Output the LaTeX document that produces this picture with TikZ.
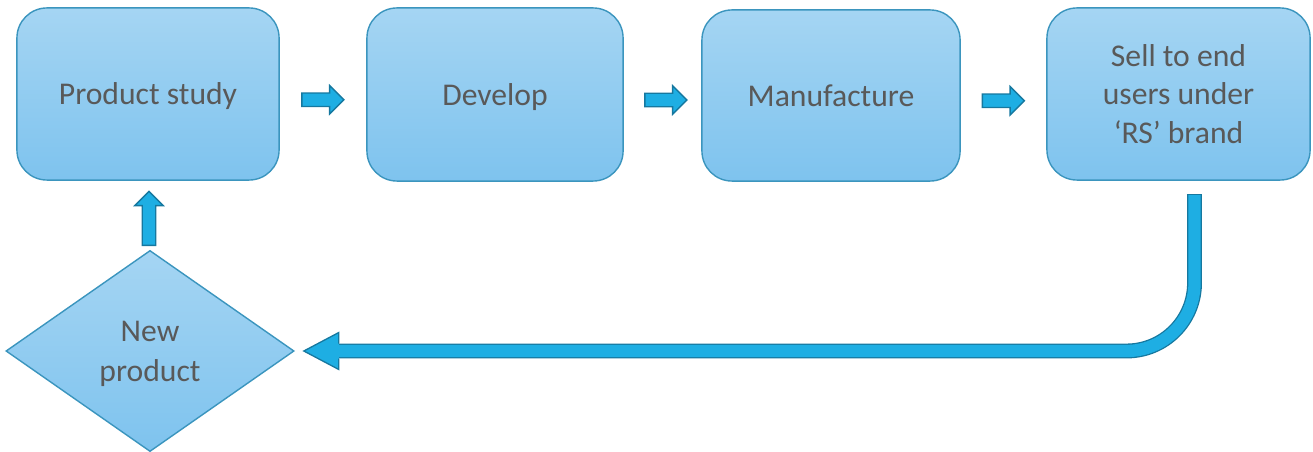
\documentclass[tikz,border=0pt]{standalone}
\usepackage{fontspec}
\setmainfont{Carlito}
\usetikzlibrary{shapes.geometric,shapes.arrows,calc}
\definecolor{boxtop}{HTML}{A5D5F3}
\definecolor{boxbottom}{HTML}{7EC3EE}
\definecolor{boxline}{HTML}{3B95BE}
\definecolor{arrowfill}{HTML}{1EAEE3}
\definecolor{arrowline}{HTML}{16789F}
\definecolor{labeltext}{HTML}{595959}
\tikzset{
    stepbox/.style={rectangle, rounded corners=0.3cm, draw=boxline, line width=0.4pt,
        top color=boxtop, bottom color=boxbottom, text=labeltext, align=center,
        text depth=0pt, font=\fontsize{9}{11}\selectfont},
    decision/.style={diamond, aspect=1.43, inner sep=0pt, draw=boxline, line width=0.4pt,
        minimum width=2.88cm, minimum height=2.01cm,
        top color=boxtop, bottom color=boxbottom, text=labeltext, align=center,
        text depth=-0.6pt, font=\fontsize{9}{11.3}\selectfont},
    blockarrow/.style={single arrow, draw=arrowline, fill=arrowfill, line width=0.4pt,
        inner xsep=0pt, inner ysep=0.06cm, single arrow head extend=0.075cm,
        single arrow head indent=0pt},
    bigshaft/.style={draw=arrowline, line width=0.37pt, double=arrowfill,
        double distance=3.5pt, rounded corners=0.68cm},
    bighead/.style={draw=arrowline, fill=arrowfill, line width=0.37pt, line join=miter}
}
\begin{document}
\begin{tikzpicture}[x=0.01cm, y=-0.01cm]
        \useasboundingbox (0,0) rectangle (1313,452);
        \node[stepbox, minimum width=2.62cm, minimum height=1.72cm] (study) at (148,94) {Product study};
        \node[stepbox, minimum width=2.56cm, minimum height=1.73cm] (develop) at (495,94.5) {Develop};
        \node[stepbox, minimum width=2.58cm, minimum height=1.71cm] (manufacture) at (831,95.5) {Manufacture};
        \node[stepbox, minimum width=2.63cm, minimum height=1.72cm] (sell) at (1178.5,94) {Sell to end\\users under\\`RS' brand};
        \node[decision] (newprod) at (150,351) {New\\product};
        % small arrows between the steps
        \node[blockarrow, minimum height=0.42cm] (a1) at ([yshift=-0.055cm,xshift=-0.035cm]$(study.east)!0.5!(develop.west)$) {};
        \node[blockarrow, minimum height=0.42cm] (a2) at ([yshift=-0.05cm]$(develop.east)!0.5!(manufacture.west)$) {};
        \node[blockarrow, minimum height=0.42cm] (a3) at ([yshift=-0.06cm,xshift=-0.035cm]$(manufacture.east)!0.5!(sell.west)$) {};
        \node[blockarrow, minimum height=0.54cm, rotate=90] (a4) at ([yshift=-0.065cm]$(study.south)!0.5!(newprod.north)$) {};
        % feedback arrow back to the new product
        \coordinate (ustart) at ([xshift=0.16cm, yshift=-0.14cm]sell.south);
        \coordinate (utip) at ([xshift=0.09cm]newprod.east);
        \draw[bigshaft] (ustart) |- ([xshift=0.35cm]utip);
        \draw[arrowline, line width=0.37pt] ([xshift=-2.15pt]ustart) -- ([xshift=2.15pt]ustart);
        \filldraw[bighead] ([shift={(35,-7.5)}]utip) -- ++(0,-11) -- (utip) -- ++(35,18.5) -- ++(0,-11);
\end{tikzpicture}
\end{document}
